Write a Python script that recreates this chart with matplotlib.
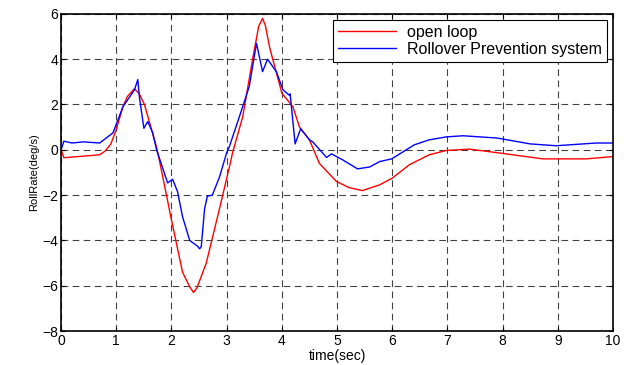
import numpy as np
import matplotlib.pyplot as plt

# open loop roll rate
t_open = [0, 0.05, 0.3, 0.7, 0.8, 0.9, 1.0, 1.12, 1.2, 1.33, 1.42, 1.51, 1.73, 1.79, 2.0, 2.2,
          2.33, 2.4, 2.46, 2.63, 2.87, 3.05, 3.11, 3.29, 3.47, 3.58, 3.65, 3.7, 3.78, 4.0,
          4.2, 4.32, 4.5, 4.68, 4.99, 5.22, 5.46, 5.77, 6.0, 6.31, 6.67, 6.98, 7.4, 7.94,
          8.73, 9.52, 10]
rr_open = [0, -0.35, -0.3, -0.22, -0.05, 0.25, 0.9, 1.9, 2.35, 2.7, 2.45, 2.0, 0.1, -0.57, -3.1, -5.4,
           -6.05, -6.3, -6.1, -5.0, -2.6, -0.75, -0.1, 1.45, 4.0, 5.45, 5.8, 5.5, 4.5, 2.5,
           1.9, 1.0, 0.44, -0.6, -1.4, -1.67, -1.8, -1.55, -1.25, -0.66, -0.22, -0.03, 0.03, -0.14,
           -0.4, -0.4, -0.3]

# with rollover prevention system
t_rps = [0, 0.05, 0.2, 0.4, 0.7, 0.94, 1.12, 1.33, 1.39, 1.42, 1.5, 1.57, 1.66, 1.73, 1.93,
         2.02, 2.11, 2.2, 2.33, 2.47, 2.51, 2.54, 2.6, 2.65, 2.74, 2.87, 3.0, 3.05, 3.23,
         3.41, 3.54, 3.65, 3.74, 3.9, 4.02, 4.14, 4.15, 4.24, 4.34, 4.5, 4.56, 4.81, 4.9,
         5.1, 5.37, 5.59, 5.77, 5.99, 6.4, 6.67, 6.98, 7.28, 7.9, 8.5, 8.97, 9.7, 10]
rr_rps = [0, 0.38, 0.3, 0.35, 0.3, 0.75, 1.9, 2.65, 3.1, 2.3, 0.95, 1.25, 0.75, 0.0, -1.46,
          -1.3, -1.85, -2.95, -4.0, -4.25, -4.37, -4.27, -2.6, -2.05, -2.0, -1.2, -0.13, 0.15, 1.46,
          2.8, 4.7, 3.45, 4.0, 3.45, 2.65, 2.4, 2.47, 0.26, 0.93, 0.44, 0.35, -0.34, -0.18,
          -0.44, -0.84, -0.76, -0.52, -0.4, 0.22, 0.44, 0.57, 0.62, 0.52, 0.26, 0.18, 0.3, 0.3]

plt.rcParams['font.family'] = ['Liberation Sans', 'DejaVu Sans']

fig = plt.figure(figsize=(6.3, 3.65), dpi=100)
ax = fig.add_axes([0.097, 0.093, 0.876, 0.869])

ax.plot(t_open, rr_open, color='#ff0000', lw=1.0, label='open loop')
ax.plot(t_rps, rr_rps, color='#0000ff', lw=1.0, label='Rollover Prevention system')

ax.set_xlim(0, 10)
ax.set_ylim(-8, 6)
ax.set_xticks(np.arange(0, 11, 1))
ax.set_yticks(np.arange(-8, 7, 2))
ax.grid(True, color='black', linestyle=(0, (6, 4)), linewidth=0.8, alpha=0.75)
ax.tick_params(direction='in', labelsize=10, length=3, top=True, right=True, pad=2)
for s in ax.spines.values():
    s.set_linewidth(1.2)

ax.set_xlabel('time(sec)', fontsize=10, labelpad=1)
ax.set_ylabel('RollRate(deg/s)', fontsize=8, labelpad=2)

leg = ax.legend(loc='upper right', fontsize=11.5, fancybox=False, framealpha=1,
                edgecolor='black', borderaxespad=0.4, handlelength=3.6,
                borderpad=0.3, labelspacing=0.12, handletextpad=0.7)
leg.get_frame().set_linewidth(0.8)

fig.savefig('out.png', dpi=100)
